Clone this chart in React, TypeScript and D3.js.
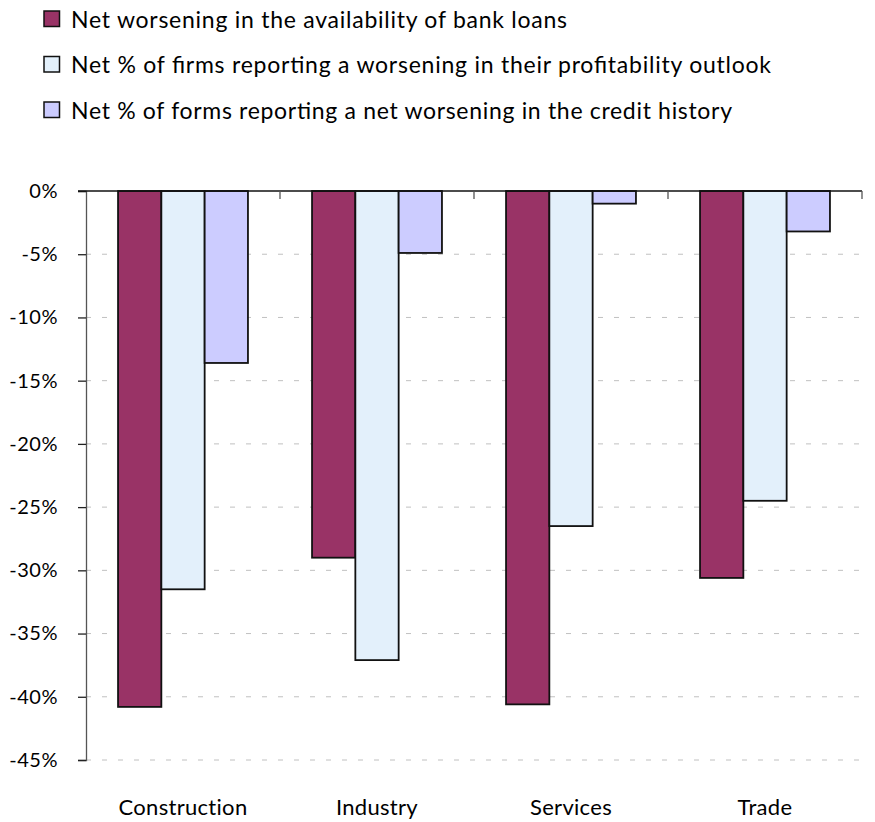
import { useEffect, useRef } from 'react'
import * as d3 from 'd3'

const categories = ['Construction', 'Industry', 'Services', 'Trade']
const seriesNames = [
    'Net worsening in the availability of bank loans',
    'Net % of firms reporting a worsening in their profitability outlook',
    'Net % of forms reporting a net worsening in the credit history',
]
const bankLoans = [-40.8, -29.0, -40.6, -30.6]
const profitability = [-31.5, -37.1, -26.5, -24.5]
const creditHistory = [-13.6, -4.9, -1.0, -3.2]
const yTicks = [0, -5, -10, -15, -20, -25, -30, -35, -40, -45]
const colors = ['#993366', '#E3F0FB', '#CCCCFF']
// measured widths of the legend texts in the reference
const legendWidths = [496, 700, 661]

const FONT = 'Lato, "Open Sans", sans-serif'

export default function App() {
    const svgRef = useRef<SVGSVGElement>(null)

    useEffect(() => {
        if (!svgRef.current) return
        const svg = d3.select(svgRef.current)
        svg.selectAll('*').remove()

        const width = 875
        const height = 822
        const margin = { top: 191, right: 13, bottom: 62, left: 86 }
        svg.attr('width', width).attr('height', height)

        const series = [bankLoans, profitability, creditHistory]

        const x = d3.scaleBand<string>()
            .domain(categories)
            .range([margin.left, width - margin.right])
            .paddingInner(0)
            .paddingOuter(0)

        const xInner = d3.scaleBand<number>()
            .domain([0, 1, 2])
            .range([0, x.bandwidth()])
            .paddingInner(0)
            .paddingOuter(0.74)

        const y = d3.scaleLinear()
            .domain([0, -45])
            .range([margin.top, height - margin.bottom])

        // Gridlines
        svg.append('g')
            .selectAll('line')
            .data(yTicks.filter(d => d !== 0))
            .enter()
            .append('line')
            .attr('x1', margin.left)
            .attr('x2', width - margin.right)
            .attr('y1', d => y(d))
            .attr('y2', d => y(d))
            .attr('stroke', '#c0c0c0')
            .attr('stroke-width', 1)
            .attr('stroke-dasharray', '5,11')

        // Bars
        categories.forEach((cat, ci) => {
            series.forEach((vals, si) => {
                const v = vals[ci]
                svg.append('rect')
                    .attr('x', x(cat)! + xInner(si)!)
                    .attr('y', y(0))
                    .attr('width', xInner.bandwidth())
                    .attr('height', y(v) - y(0))
                    .attr('fill', colors[si])
                    .attr('stroke', '#111')
                    .attr('stroke-width', 1.8)
            })
        })

        // Y axis
        const yAxis = svg.append('g')
            .attr('transform', `translate(${margin.left},0)`)
            .call(d3.axisLeft(y)
                .tickValues(yTicks)
                .tickSize(8)
                .tickPadding(20)
                .tickFormat(d => `${d}%`))
        yAxis.select('.domain').attr('stroke', '#555').attr('stroke-width', 1.3)
        yAxis.selectAll('.tick line').attr('stroke', '#222').attr('stroke-width', 1.3)
        yAxis.selectAll('.tick text')
            .attr('fill', '#000')
            .style('font-size', '20px')
            .style('letter-spacing', '0.5px')
            .style('font-family', FONT)

        // Zero line with category separator ticks
        svg.append('line')
            .attr('x1', margin.left - 8)
            .attr('x2', width - margin.right)
            .attr('y1', y(0))
            .attr('y2', y(0))
            .attr('stroke', '#111')
            .attr('stroke-width', 1.3)
        categories.forEach(cat => {
            const bx = x(cat)! + x.bandwidth()
            svg.append('line')
                .attr('x1', bx)
                .attr('x2', bx)
                .attr('y1', y(0))
                .attr('y2', y(0) + 8)
                .attr('stroke', '#555')
                .attr('stroke-width', 1.3)
        })

        // Category labels
        svg.append('g')
            .selectAll('text')
            .data(categories)
            .enter()
            .append('text')
            .attr('x', d => x(d)! + x.bandwidth() / 2)
            .attr('y', 815)
            .attr('text-anchor', 'middle')
            .style('font-size', '22px')
            .style('letter-spacing', '0.3px')
            .style('font-family', FONT)
            .text(d => d)

        // Legend
        const legend = svg.append('g')
        seriesNames.forEach((name, i) => {
            const baseline = 27.5 + i * 45.5
            legend.append('rect')
                .attr('x', 44)
                .attr('y', baseline - 16.5)
                .attr('width', 15.5)
                .attr('height', 15.5)
                .attr('fill', colors[i])
                .attr('stroke', '#111')
                .attr('stroke-width', 1.5)
            legend.append('text')
                .attr('x', 71)
                .attr('y', baseline)
                .attr('textLength', legendWidths[i])
                .attr('lengthAdjust', 'spacing')
                .style('font-size', '23px')
                .style('font-family', FONT)
                .text(name)
        })
    }, [])

    return (
        <svg ref={svgRef} style={{ position: 'absolute', left: 0, top: 0, background: '#fff' }}></svg>
    )
}
